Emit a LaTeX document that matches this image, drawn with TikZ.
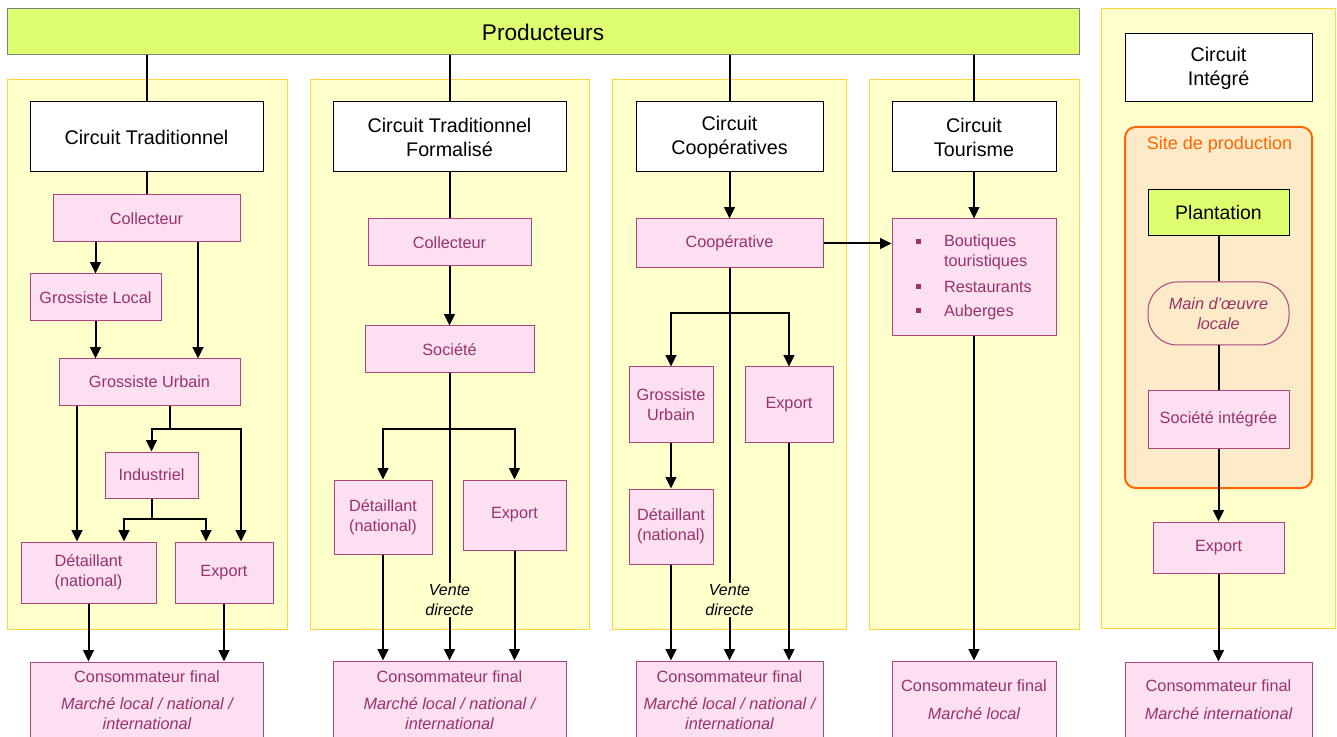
\documentclass[tikz,border=0pt]{standalone}
\usepackage{fontspec}
\setmainfont{Liberation Sans}
\usetikzlibrary{arrows.meta,calc}
\definecolor{prodfill}{RGB}{221,255,111}
\definecolor{contfill}{RGB}{255,255,204}
\definecolor{contdraw}{RGB}{255,212,60}
\definecolor{pinkfill}{RGB}{253,223,242}
\definecolor{pinkdraw}{RGB}{170,70,125}
\definecolor{pinktext}{RGB}{153,51,102}
\definecolor{sitefill}{RGB}{253,234,200}
\definecolor{siteorange}{RGB}{255,102,0}
\newcommand{\bx}[7]{\node[#6, minimum width={0.75pt*(#4-#2)}, minimum height={0.75pt*(#5-#3)}] (#1) at ({(#2+#4)/2},{(#3+#5)/2}) {#7};}
\newcommand{\blt}{\rule[2.4pt]{3.8pt}{3.8pt}}
\tikzset{
 hdr/.style={draw=black, fill=white, line width=0.75pt, inner sep=0pt, align=center, font=\fontsize{14.8pt}{18pt}\selectfont},
 pbox/.style={draw=pinkdraw, fill=pinkfill, line width=0.75pt, inner sep=0pt, align=center, text=pinktext, font=\fontsize{12.2pt}{15pt}\selectfont},
 cont/.style={draw=contdraw, fill=contfill, line width=0.75pt, inner sep=0pt},
 ptxt/.style={inner sep=0pt, align=center, text=pinktext, font=\fontsize{12.2pt}{15pt}\selectfont},
 ptxti/.style={ptxt, font=\fontsize{12.2pt}{15pt}\selectfont\itshape},
 link/.style={line width=1.5pt},
 arr/.style={line width=1.5pt, -{Triangle[width=8pt,length=8.5pt]}},
 vd/.style={fill=contfill, inner sep=1pt, align=center, font=\fontsize{12pt}{15pt}\selectfont\itshape},
}
\begin{document}
\begin{tikzpicture}[x=0.75pt,y=-0.75pt]
\clip (0,0) rectangle (1337,737);
\fill[white] (0,0) rectangle (1337,737);
% producers
\bx{prod}{7}{9}{1079}{55}{draw=gray, fill=prodfill, line width=0.75pt, inner sep=0pt, font=\fontsize{17pt}{20pt}\selectfont}{Producteurs}
% containers
\bx{cont1}{7}{80}{287}{629}{cont}{}
\bx{cont2}{310}{80}{589}{629}{cont}{}
\bx{cont3}{612}{80}{846}{629}{cont}{}
\bx{cont4}{869}{80}{1079}{629}{cont}{}
\bx{cont5}{1101}{9}{1335}{628}{cont}{}
% headers
\bx{h1}{30}{102}{263}{172}{hdr}{Circuit Traditionnel}
\bx{h2}{333}{102}{566}{172}{hdr}{Circuit Traditionnel\\Formalisé}
\bx{h3}{636}{102}{823}{172}{hdr}{Circuit\\Coopératives}
\bx{h4}{892}{102}{1056}{172}{hdr}{Circuit\\Tourisme}
\bx{h5}{1125}{34}{1312}{102}{hdr}{Circuit\\Intégré}
% column 1
\bx{c1col}{53}{195}{240}{242}{pbox}{Collecteur}
\bx{c1gl}{30}{274}{161}{321}{pbox}{Grossiste Local}
\bx{c1gu}{59}{359}{240}{405}{pbox}{Grossiste Urbain}
\bx{c1ind}{105}{452}{198}{498}{pbox}{Industriel}
\bx{c1det}{21}{542}{156}{603}{pbox}{Détaillant\\(national)}
\bx{c1exp}{175}{542}{273}{603}{pbox}{Export}
\bx{c1con}{30}{662}{263}{760}{pbox}{}
\node[ptxt] (c1a) at (147,677) {Consommateur final};
\node[ptxti] (c1b) at (147,714) {Marché local / national /\\international};
% column 2
\bx{c2col}{368}{219}{531}{266}{pbox}{Collecteur}
\bx{c2soc}{365}{326}{534}{373}{pbox}{Société}
\bx{c2det}{334}{480}{432}{554}{pbox}{Détaillant\\(national)}
\bx{c2exp}{463}{480}{566}{550}{pbox}{Export}
\bx{c2con}{333}{661}{566}{760}{pbox}{}
\node[ptxt] (c2a) at (449.5,677) {Consommateur final};
\node[ptxti] (c2b) at (449.5,714) {Marché local / national /\\international};
% column 3
\bx{c3coop}{636}{219}{823}{268}{pbox}{Coopérative}
\bx{c3gu}{629}{367}{713}{442}{pbox}{Grossiste\\Urbain}
\bx{c3exp}{745}{367}{833}{442}{pbox}{Export}
\bx{c3det}{629}{489}{713}{564}{pbox}{Détaillant\\(national)}
\bx{c3con}{636}{661}{823}{760}{pbox}{}
\node[ptxt] (c3a) at (729.5,677) {Consommateur final};
\node[ptxti] (c3b) at (729.5,714) {Marché local / national /\\international};
% column 4
\bx{c4box}{892}{219}{1056}{336}{pbox}{\begin{tabular}{@{}l@{\hspace{17pt}}l@{}}\blt & Boutiques\\ & touristiques\\[4pt] \blt & Restaurants\\[3pt] \blt & Auberges\end{tabular}}
\bx{c4con}{892}{661}{1056}{760}{pbox}{}
\node[ptxt] (c4a) at (974,686) {Consommateur final};
\node[ptxti] (c4b) at (974,714) {Marché local};
% column 5
\bx{site}{1125}{127}{1312}{488}{draw=siteorange, fill=sitefill, line width=1.5pt, rounded corners=8pt, inner sep=0pt}{}
\node[text=siteorange, font=\fontsize{13.5pt}{16pt}\selectfont, inner sep=0pt] (sitet) at (1219.5,145) {Site de production};
\bx{plant}{1148}{190}{1289}{236}{draw=black, fill=prodfill, line width=0.75pt, inner sep=0pt, font=\fontsize{14.6pt}{18pt}\selectfont}{Plantation}
\bx{main}{1148}{282}{1289}{345}{pbox, fill=none, rounded corners=22pt, font=\fontsize{12.2pt}{15pt}\selectfont\itshape}{Main d’œuvre\\locale}
\bx{si}{1148}{391}{1289}{448}{pbox}{Société intégrée}
\bx{exp5}{1153}{522}{1284}{573}{pbox}{Export}
\bx{c5con}{1125}{662}{1312}{760}{pbox}{}
\node[ptxt] (c5a) at (1218.5,686) {Consommateur final};
\node[ptxti] (c5b) at (1218.5,714) {Marché international};
% coordinates
\coordinate (x198) at (198,0);
\coordinate (x77) at (77,0);
\coordinate (x241) at (241,0);
\coordinate (x124) at (124,0);
\coordinate (x206) at (206,0);
\coordinate (b1) at (170,429);
\coordinate (b2) at (151.5,519);
\coordinate (b3) at (449.5,429);
\coordinate (b4) at (729.5,313);
% producer links
\draw[link] (prod.south -| h1.north) -- (h1.north);
\draw[link] (prod.south -| h2.north) -- (h2.north);
\draw[link] (prod.south -| h3.north) -- (h3.north);
\draw[link] (prod.south -| h4.north) -- (h4.north);
% column 1 links
\draw[link] (h1.south) -- (c1col.north);
\draw[arr] (c1col.south -| c1gl.north) -- (c1gl.north);
\draw[arr] (c1col.south -| x198) -- (c1gu.north -| x198);
\draw[arr] (c1gl.south) -- (c1gu.north -| c1gl.south);
\draw[arr] (c1gu.south -| x77) -- (c1det.north -| x77);
\draw[link] (c1gu.south -| b1) -- (b1);
\draw[arr] (b1) -| (c1ind.north);
\draw[arr] (b1) -| (c1exp.north -| x241);
\draw[link] (c1ind.south) -- (b2);
\draw[arr] (b2) -| (c1det.north -| x124);
\draw[arr] (b2) -| (c1exp.north -| x206);
\draw[arr] (c1det.south) -- (c1con.north -| c1det.south);
\draw[arr] (c1exp.south) -- (c1con.north -| c1exp.south);
% column 2 links
\draw[link] (h2.south) -- (c2col.north);
\draw[arr] (c2col.south) -- (c2soc.north);
\draw[arr] (c2soc.south) -- (c2con.north -| c2soc.south);
\draw[arr] (b3) -| (c2det.north);
\draw[arr] (b3) -| (c2exp.north);
\draw[arr] (c2det.south) -- (c2con.north -| c2det.south);
\draw[arr] (c2exp.south) -- (c2con.north -| c2exp.south);
\node[vd] (vd2) at (449.5,600) {Vente\\directe};
% column 3 links
\draw[arr] (h3.south) -- (c3coop.north);
\draw[arr] (c3coop.east) -- (c3coop.east -| c4box.west);
\draw[arr] (c3coop.south) -- (c3con.north -| c3coop.south);
\draw[arr] (b4) -| (c3gu.north);
\draw[arr] (b4) -| (c3exp.north);
\draw[arr] (c3gu.south) -- (c3det.north);
\draw[arr] (c3det.south) -- (c3con.north -| c3det.south);
\draw[arr] (c3exp.south) -- (c3con.north -| c3exp.south);
\node[vd] (vd3) at (729.5,600) {Vente\\directe};
% column 4 links
\draw[arr] (h4.south) -- (c4box.north);
\draw[arr] (c4box.south) -- (c4con.north);
% column 5 links
\draw[link] (plant.south) -- (main.north);
\draw[link] (main.south) -- (si.north);
\draw[arr] (si.south) -- (exp5.north);
\draw[arr] (exp5.south) -- (c5con.north);
\end{tikzpicture}
\end{document}
